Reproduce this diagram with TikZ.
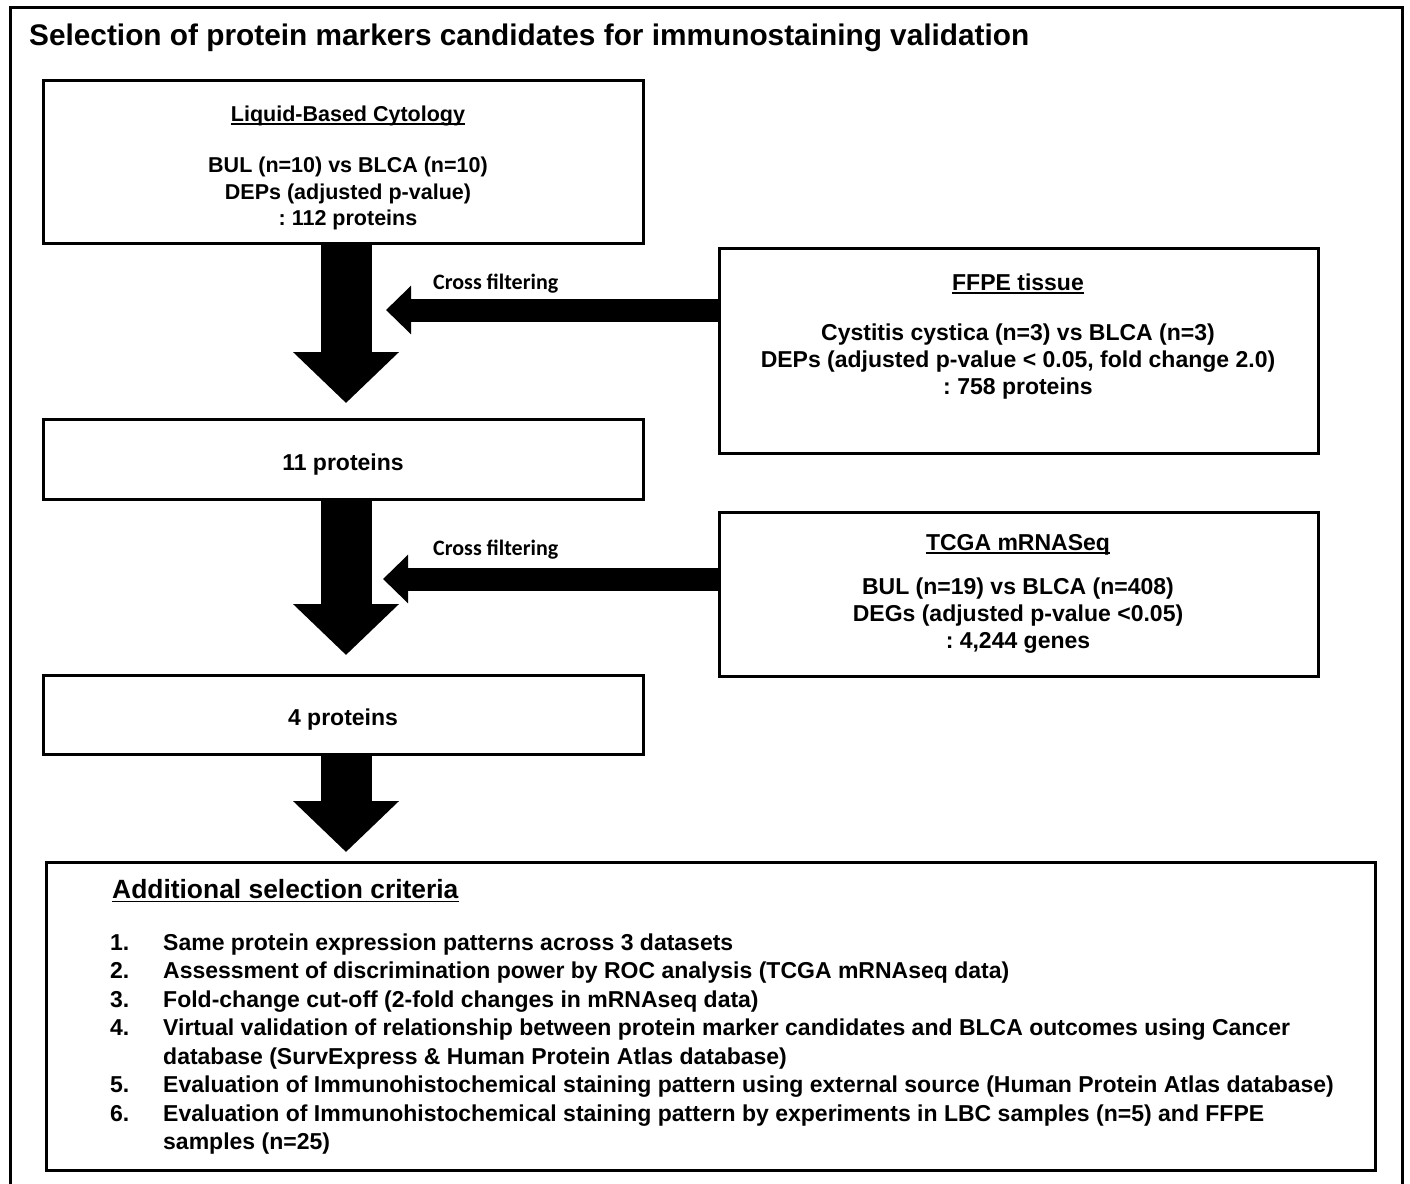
\documentclass[tikz,border=0pt]{standalone}
\usepackage{fontspec}
\setmainfont{Liberation Sans}
\newfontfamily\calibfont{Carlito}
\usetikzlibrary{arrows.meta}
\begin{document}
\frenchspacing
\begin{tikzpicture}[x=1pt,y=-1pt,
  box/.style={draw, line width=3pt, inner sep=0pt, outer sep=0pt, anchor=north west},
  txt/.style={inner sep=0pt, anchor=base, font=\bfseries\fontsize{21.5}{25}\selectfont},
  txtb/.style={inner sep=0pt, anchor=base, font=\bfseries\fontsize{23}{27}\selectfont},
  itm/.style={inner sep=0pt, anchor=base west, font=\bfseries\fontsize{23}{27}\selectfont},
  ttl/.style={inner sep=0pt, anchor=base west, font=\bfseries\fontsize{29.8}{36}\selectfont},
  crossl/.style={inner sep=0pt, anchor=base west, font=\calibfont\bfseries\fontsize{22}{26}\selectfont},
  ul/.style={line width=1.8pt},
  downarrow/.style={line width=51pt, -{Triangle[width=103pt, length=51pt]}},
  leftarrow/.style={line width=23pt, -{Triangle[width=47pt, length=25pt]}}
]
\useasboundingbox (0,0) rectangle (1410,1183);
\fill[white] (0,0) rectangle (1410,1183);
% outer frame
\draw[line width=3pt] (10,1200) -- (10,7) -- (1402,7) -- (1402,1200);
\node[ttl] (title) at (29,45) {Selection of protein markers candidates for immunostaining validation};

% boxes
\node[box, minimum width=600pt, minimum height=163pt] (lbc) at (43,80) {};
\node[box, minimum width=599pt, minimum height=205pt] (ffpe) at (719,248) {};
\node[box, minimum width=600pt, minimum height=80pt] (p11) at (43,419) {};
\node[box, minimum width=599pt, minimum height=164pt] (tcga) at (719,512) {};
\node[box, minimum width=600pt, minimum height=79pt] (p4) at (43,675) {};
\node[box, minimum width=1329pt, minimum height=308pt] (crit) at (46,862) {};

% LBC text
\node[txt] (lbct) at (348,121) {Liquid-Based Cytology};
\draw[ul] ([yshift=-3pt]lbct.base west) -- ([yshift=-3pt]lbct.base east);
\node[txt] (lbc1) at (348,172) {BUL (n=10) vs BLCA (n=10)};
\node[txt] (lbc2) at (348,199) {DEPs (adjusted p-value)};
\node[txt] (lbc3) at (348,225) {: 112 proteins};

% FFPE text
\node[txtb] (ffpet) at (1018,290) {FFPE tissue};
\draw[ul] ([yshift=-3pt]ffpet.base west) -- ([yshift=-3pt]ffpet.base east);
\node[txtb] (ffpe1) at (1018,340) {Cystitis cystica (n=3) vs BLCA (n=3)};
\node[txtb] (ffpe2) at (1018,367) {DEPs (adjusted p-value < 0.05, fold change 2.0)};
\node[txtb] (ffpe3) at (1018,394) {: 758 proteins};

% 11 proteins
\node[txtb] (p11t) at (343,470) {11 proteins};

% TCGA text
\node[txtb] (tcgat) at (1018,550) {TCGA mRNASeq};
\draw[ul] ([yshift=-3pt]tcgat.base west) -- ([yshift=-3pt]tcgat.base east);
\node[txtb] (tcga1) at (1018,594) {BUL (n=19) vs BLCA (n=408)};
\node[txtb] (tcga2) at (1018,621) {DEGs (adjusted p-value <0.05)};
\node[txtb] (tcga3) at (1018,648) {: 4,244 genes};

% 4 proteins
\node[txtb] (p4t) at (343,725) {4 proteins};

% criteria
\node[inner sep=0pt, anchor=base west, font=\bfseries\fontsize{26.4}{30}\selectfont] (critt) at (112,898) {Additional selection criteria};
\draw[ul] ([yshift=-3.5pt]critt.base west) -- ([yshift=-3.5pt]critt.base east);
\node[itm] (n1) at (110,950) {1.};
\node[itm] (i1) at (163,950) {Same protein expression patterns across 3 datasets};
\node[itm] (n2) at (110,978.5) {2.};
\node[itm] (i2) at (163,978.5) {Assessment of discrimination power by ROC analysis (TCGA mRNAseq data)};
\node[itm] (n3) at (110,1007) {3.};
\node[itm] (i3) at (163,1007) {Fold-change cut-off (2-fold changes in mRNAseq data)};
\node[itm] (n4) at (110,1035.5) {4.};
\node[itm] (i4) at (163,1035.5) {Virtual validation of relationship between protein marker candidates and BLCA outcomes using Cancer};
\node[itm] (i4b) at (163,1064) {database (SurvExpress \& Human Protein Atlas database)};
\node[itm] (n5) at (110,1092.5) {5.};
\node[itm] (i5) at (163,1092.5) {Evaluation of Immunohistochemical staining pattern using external source (Human Protein Atlas database)};
\node[itm] (n6) at (110,1121) {6.};
\node[itm] (i6) at (163,1121) {Evaluation of Immunohistochemical staining pattern by experiments in LBC samples (n=5) and FFPE};
\node[itm] (i6b) at (163,1149.5) {samples (n=25)};

% down arrows
\draw[downarrow, shorten >=16pt] ([xshift=3pt]lbc.south) -- ([xshift=3pt]p11.north);
\draw[downarrow, shorten >=20pt] ([xshift=3pt]p11.south) -- ([xshift=3pt]p4.north);
\draw[downarrow, shorten >=10pt] ([xshift=3pt]p4.south) -- ([xshift=300pt]crit.north west);

% cross filtering arrows
\coordinate (tip1) at (386,310);
\coordinate (tip2) at (383,579);
\draw[leftarrow] ([yshift=-62pt]ffpe.north west) -- (tip1);
\draw[leftarrow] ([yshift=-67pt]tcga.north west) -- (tip2);
\node[crossl] (cf1) at (433,289) {Cross filtering};
\node[crossl] (cf2) at (433,555) {Cross filtering};
\end{tikzpicture}
\end{document}
